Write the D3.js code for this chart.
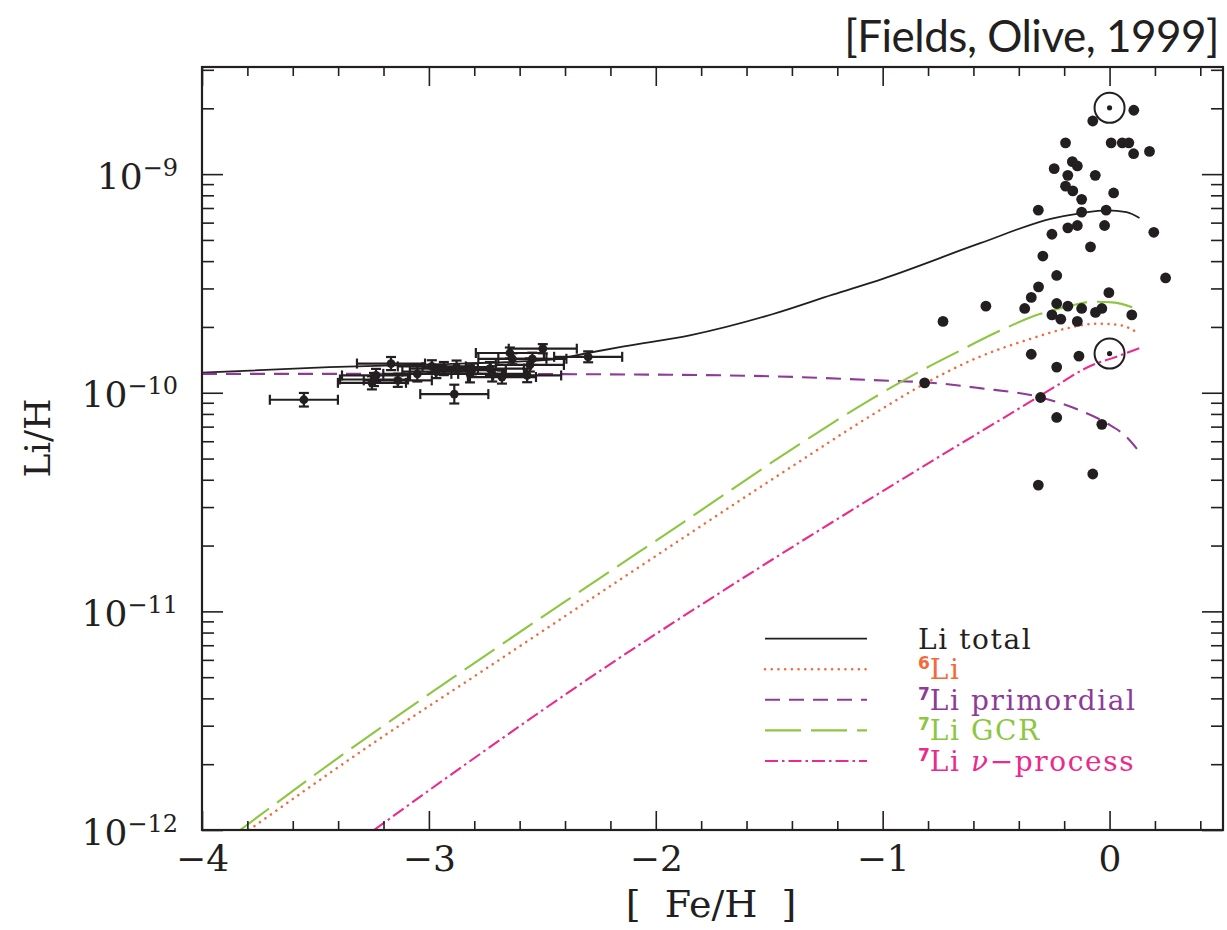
<!DOCTYPE html>
<html>
<head>
<meta charset="utf-8">
<script src="https://cdn.jsdelivr.net/npm/d3@7"></script>
<style>
  body { margin: 0; background: #fff; }
  text { fill: #231f20; }
</style>
</head>
<body>
<div id="vis"></div>
<script>

// halo stars (with error bars)
const haloFeH = [-3.551, -2.888, -2.298, -2.498, -2.567, -3.167, -3.242, -3.137, -3.051, -2.819, -2.721, -2.987,
  -2.878, -2.632, -2.643, -2.544, -2.967, -2.731, -2.811, -3.251, -3.233, -2.555, -2.934, -2.678];
const haloLi = [9.29e-11, 9.86e-11, 1.46e-10, 1.59e-10, 1.20e-10, 1.36e-10, 1.15e-10, 1.14e-10, 1.22e-10, 1.22e-10, 1.22e-10, 1.32e-10,
  1.31e-10, 1.43e-10, 1.52e-10, 1.43e-10, 1.25e-10, 1.29e-10, 1.27e-10, 1.11e-10, 1.20e-10, 1.34e-10, 1.29e-10, 1.18e-10];
const haloYErr = [0.031, 0.043, 0.025, 0.021, 0.031, 0.03, 0.03, 0.03, 0.035, 0.039, 0.035, 0.028,
  0.03, 0.025, 0.025, 0.028, 0.03, 0.03, 0.03, 0.03, 0.03, 0.03, 0.03, 0.03];
const haloXErr = 0.15;

// disk stars
const diskFeH = [0.107, -0.074, -0.194, 0.007, 0.056, 0.085, 0.106, 0.176, -0.164, -0.142, -0.244, -0.184, -0.063,
  -0.194, -0.162, -0.123, 0.018, -0.314, -0.123, -0.015, -0.184, -0.142, -0.022, -0.254, 0.195, -0.084,
  -0.294, -0.233, 0.247, -0.313, -0.345, -0.003, -0.545, -0.374, -0.233, -0.184, -0.123, -0.062, -0.034,
  -0.254, -0.215, -0.142, 0.098, -0.734, -0.345, -0.135, -0.233, -0.815, -0.304, -0.233, -0.034, -0.074, -0.314];
const diskLi = [1.96e-9, 1.75e-9, 1.39e-9, 1.39e-9, 1.39e-9, 1.39e-9, 1.24e-9, 1.27e-9, 1.14e-9, 1.09e-9, 1.06e-9, 9.87e-10, 9.87e-10,
  8.81e-10, 8.38e-10, 7.67e-10, 8.20e-10, 6.84e-10, 6.70e-10, 6.84e-10, 5.68e-10, 5.82e-10, 5.82e-10, 5.31e-10, 5.42e-10, 4.65e-10,
  4.22e-10, 3.44e-10, 3.35e-10, 3.05e-10, 2.73e-10, 2.87e-10, 2.49e-10, 2.43e-10, 2.56e-10, 2.49e-10, 2.43e-10, 2.33e-10, 2.43e-10,
  2.27e-10, 2.17e-10, 2.12e-10, 2.27e-10, 2.12e-10, 1.50e-10, 1.47e-10, 1.31e-10, 1.11e-10, 9.51e-11, 7.71e-11, 7.17e-11, 4.25e-11, 3.78e-11];

// solar values (meteoritic / photospheric)
const sunFeH = [0, 0];
const sunLi = [2.01e-9, 1.51e-10];

// model curves
const totalFeH = [-4, -3.44, -2.95, -2.45, -2.3, -2.14, -1.85, -1.49, -1.22, -1.0, -0.57, -0.25, -0.13, -0.01, 0.075, 0.132];
const totalLi = [1.236e-10, 1.31e-10, 1.35e-10, 1.42e-10, 1.52e-10, 1.63e-10, 1.83e-10, 2.28e-10, 2.81e-10, 3.32e-10,
  4.83e-10, 6.28e-10, 6.62e-10, 6.83e-10, 6.7e-10, 6.3e-10];

const li6FeH = [-3.793, -3.242, -2.76, -2.1, -1.433, -1.013, -0.815, -0.573, -0.352, -0.189, -0.057, 0.044, 0.132];
const li6Li = [1e-12, 2.51e-12, 5.37e-12, 1.53e-11, 4.37e-11, 8.32e-11, 1.10e-10, 1.46e-10, 1.76e-10, 1.97e-10, 2.07e-10, 2.04e-10, 1.86e-10];

const primFeH = [-4, -3, -2, -1.5, -0.93, -0.815, -0.573, -0.308, -0.132, -0.013, 0.075, 0.132];
const primLi = [1.22e-10, 1.22e-10, 1.21e-10, 1.19e-10, 1.13e-10, 1.117e-10, 1.05e-10, 9.55e-11, 8.32e-11, 7.26e-11, 6.27e-11, 5.35e-11];

const gcrFeH = [-3.832, -3.36, -2.868, -2.377, -1.875, -1.374, -1.059, -0.85, -0.674, -0.498, -0.308, -0.163, -0.075, 0.013, 0.132];
const gcrLi = [1e-12, 2.29e-12, 5.19e-12, 1.15e-11, 2.57e-11, 5.75e-11, 9.23e-11, 1.23e-10, 1.53e-10, 1.89e-10, 2.29e-10,
  2.51e-10, 2.61e-10, 2.59e-10, 2.39e-10];

const nuFeH = [-3.242, -2.829, -2.239, -1.649, -1.013, -0.718, -0.427, -0.251, -0.075, 0.013, 0.132];
const nuLi = [1e-12, 2.03e-12, 5.4e-12, 1.35e-11, 3.48e-11, 5.35e-11, 8.13e-11, 1.05e-10, 1.34e-10, 1.44e-10, 1.6e-10];

// ticks
const xMajor = [-4, -3, -2, -1, 0];
const yMajor = [1e-12, 1e-11, 1e-10, 1e-9];
const yExponents = ["−12", "−11", "−10", "−9"];

// legend
const legendNames = ["total", "li6", "prim", "gcr", "nu"];
const legendSup = ["", "6", "7", "7", "7"];
const legendText = ["Li total", "Li", "Li primordial", "Li GCR", "Li ν−process"];
const colors = ["#231f20", "#f26a3a", "#8e3b98", "#8dc640", "#ec2a8c"];
const dashes = ["none", "0.1,6.6", "15,9", "36,10", "13,4,2.5,4"];

const WIDTH = 1227;
const HEIGHT = 930;
const margin = {top: 67, right: 4, bottom: 100, left: 202};
const width = WIDTH - margin.left - margin.right;
const height = HEIGHT - margin.top - margin.bottom;
const ink = "#231f20";
const serif = "'DejaVu Serif', serif";

const svg = d3
  .select("#vis")
  .append("svg")
  .attr("width", WIDTH)
  .attr("height", HEIGHT);

const plot = svg
  .append("g")
  .attr("transform", `translate(${margin.left},${margin.top})`);

const x = d3.scaleLinear().domain([-4, 0.5]).range([0, width]);
const y = d3.scaleLog().domain([1e-12, Math.pow(10, -8.51)]).range([height, 0]);

plot.append("clipPath").attr("id", "clip")
  .append("rect").attr("width", width).attr("height", height);

// curves
const curves = [
  [totalFeH, totalLi],
  [li6FeH, li6Li],
  [primFeH, primLi],
  [gcrFeH, gcrLi],
  [nuFeH, nuLi]
];

const line = d3.line()
  .x(d => x(d[0]))
  .y(d => y(d[1]))
  .curve(d3.curveMonotoneX);

curves.forEach((c, i) => {
  const pts = c[0].map((v, j) => [v, c[1][j]]);
  plot.append("path")
    .datum(pts)
    .attr("clip-path", "url(#clip)")
    .attr("fill", "none")
    .attr("stroke", colors[i])
    .attr("stroke-width", i == 0 ? 1.8 : (i == 1 ? 2.5 : 2.1))
    .attr("stroke-linecap", i == 1 ? "round" : "butt")
    .attr("stroke-dasharray", dashes[i])
    .attr("d", line);
});

// halo stars with error bars
const halo = haloFeH.map((v, i) => ({feh: v, li: haloLi[i], ey: haloYErr[i]}));
const haloG = plot.append("g")
  .attr("stroke", ink)
  .attr("stroke-width", 2.2);

halo.forEach(d => {
  const cx = x(d.feh), cy = y(d.li);
  const x0 = x(d.feh - haloXErr), x1 = x(d.feh + haloXErr);
  const y0 = y(d.li * Math.pow(10, -d.ey)), y1 = y(d.li * Math.pow(10, d.ey));
  haloG.append("line").attr("x1", x0).attr("x2", x1).attr("y1", cy).attr("y2", cy);
  haloG.append("line").attr("x1", x0).attr("x2", x0).attr("y1", cy - 5).attr("y2", cy + 5);
  haloG.append("line").attr("x1", x1).attr("x2", x1).attr("y1", cy - 5).attr("y2", cy + 5);
  haloG.append("line").attr("x1", cx).attr("x2", cx).attr("y1", y0).attr("y2", y1);
  haloG.append("line").attr("x1", cx - 5).attr("x2", cx + 5).attr("y1", y0).attr("y2", y0);
  haloG.append("line").attr("x1", cx - 5).attr("x2", cx + 5).attr("y1", y1).attr("y2", y1);
});

haloG.selectAll("circle")
  .data(halo)
  .join("circle")
  .attr("cx", d => x(d.feh))
  .attr("cy", d => y(d.li))
  .attr("r", 4.4)
  .attr("stroke", "none")
  .attr("fill", ink);

// disk stars
plot.append("g")
  .selectAll("circle")
  .data(diskFeH.map((v, i) => [v, diskLi[i]]))
  .join("circle")
  .attr("cx", d => x(d[0]))
  .attr("cy", d => y(d[1]))
  .attr("r", 5.4)
  .attr("fill", ink);

// sun symbols
const sunG = plot.append("g");
sunFeH.forEach((v, i) => {
  sunG.append("circle")
    .attr("cx", x(v)).attr("cy", y(sunLi[i])).attr("r", 15)
    .attr("fill", "none").attr("stroke", ink).attr("stroke-width", 2);
  sunG.append("circle")
    .attr("cx", x(v)).attr("cy", y(sunLi[i])).attr("r", 2.6)
    .attr("fill", ink);
});

// axes, inward ticks on all sides
const xMinor = d3.range(-4, 0.5001, 0.2).map(v => +v.toFixed(1)).filter(v => !xMajor.includes(v));
const yMinor = [];
[-12, -11, -10, -9].forEach(e => {
  for (let k = 2; k <= 9; k++) {
    const v = k * Math.pow(10, e);
    if (v < y.domain()[1]) yMinor.push(v);
  }
});

function styleAxis(g) {
  g.select(".domain").remove();
  g.selectAll("line").attr("stroke", ink).attr("stroke-width", 1.6);
}

plot.append("g")
  .attr("transform", `translate(0,${height})`)
  .call(d3.axisBottom(x).tickValues(xMajor).tickSize(-19).tickPadding(15).tickFormat(d3.format("d")))
  .call(styleAxis)
  .selectAll("text")
  .attr("font-family", serif)
  .attr("font-size", 36)
  .attr("fill", ink);

plot.append("g")
  .attr("transform", `translate(0,${height})`)
  .call(d3.axisBottom(x).tickValues(xMinor).tickSize(-9).tickFormat(""))
  .call(styleAxis);

plot.append("g")
  .call(d3.axisTop(x).tickValues(xMajor).tickSize(-19).tickFormat(""))
  .call(styleAxis);

plot.append("g")
  .call(d3.axisTop(x).tickValues(xMinor).tickSize(-9).tickFormat(""))
  .call(styleAxis);

const yAxisG = plot.append("g")
  .call(d3.axisLeft(y).tickValues(yMajor).tickSize(-21).tickFormat(""))
  .call(styleAxis);

plot.append("g")
  .call(d3.axisLeft(y).tickValues(yMinor).tickSize(-12).tickFormat(""))
  .call(styleAxis);

plot.append("g")
  .attr("transform", `translate(${width},0)`)
  .call(d3.axisRight(y).tickValues(yMajor).tickSize(-21).tickFormat(""))
  .call(styleAxis);

plot.append("g")
  .attr("transform", `translate(${width},0)`)
  .call(d3.axisRight(y).tickValues(yMinor).tickSize(-12).tickFormat(""))
  .call(styleAxis);

yAxisG.selectAll(".tick")
  .each(function(d, i) {
    const t = d3.select(this).append("text")
      .attr("x", -24)
      .attr("y", 14)
      .attr("text-anchor", "end")
      .attr("font-family", serif)
      .attr("font-size", 36)
      .attr("fill", ink);
    t.append("tspan").text("10");
    t.append("tspan").attr("dy", -13).attr("font-size", 24).text(yExponents[yMajor.indexOf(d)]);
  });

// frame
plot.append("rect")
  .attr("width", width)
  .attr("height", height)
  .attr("fill", "none")
  .attr("stroke", ink)
  .attr("stroke-width", 2.2);

// axis titles
svg.append("text")
  .attr("x", 711)
  .attr("y", 917)
  .attr("text-anchor", "middle")
  .attr("font-family", serif)
  .attr("font-size", 38)
  .style("white-space", "pre")
  .text("[  Fe/H  ]");

svg.append("text")
  .attr("transform", "translate(50,438) rotate(-90)")
  .attr("text-anchor", "middle")
  .attr("font-family", serif)
  .attr("font-size", 36)
  .text("Li/H");

// citation
svg.append("text")
  .attr("x", 1219)
  .attr("y", 52)
  .attr("text-anchor", "end")
  .attr("font-family", "Lato, 'Open Sans', sans-serif")
  .attr("font-size", 44)
  .attr("letter-spacing", -0.5)
  .text("[Fields, Olive, 1999]");

// legend
const legend = svg.append("g");
legendNames.forEach((n, i) => {
  const ly = 638.6 + i * 30.6;
  legend.append("line")
    .attr("x1", 765).attr("x2", 867)
    .attr("y1", ly).attr("y2", ly)
    .attr("stroke", colors[i])
    .attr("stroke-width", i == 0 ? 1.8 : (i == 1 ? 2.5 : 2.1))
    .attr("stroke-linecap", i == 1 ? "round" : "butt")
    .attr("stroke-dasharray", dashes[i]);
  const t = legend.append("text")
    .attr("x", 918)
    .attr("y", ly + 10)
    .attr("font-family", serif)
    .attr("font-size", 28)
    .attr("letter-spacing", 1.6)
    .style("fill", colors[i]);
  const parts = legendText[i].split("ν");
  if (legendSup[i]) {
    t.append("tspan")
      .attr("font-family", "'DejaVu Sans', sans-serif")
      .attr("font-weight", "bold")
      .attr("font-size", 17)
      .attr("letter-spacing", 0)
      .attr("dy", -10)
      .text(legendSup[i]);
    t.append("tspan").attr("dy", 10).text(parts[0]);
  } else {
    t.append("tspan").text(parts[0]);
  }
  if (parts.length > 1) {
    t.append("tspan").attr("font-style", "italic").text("ν");
    t.append("tspan").text(parts[1]);
  }
});

</script>
</body>
</html>
